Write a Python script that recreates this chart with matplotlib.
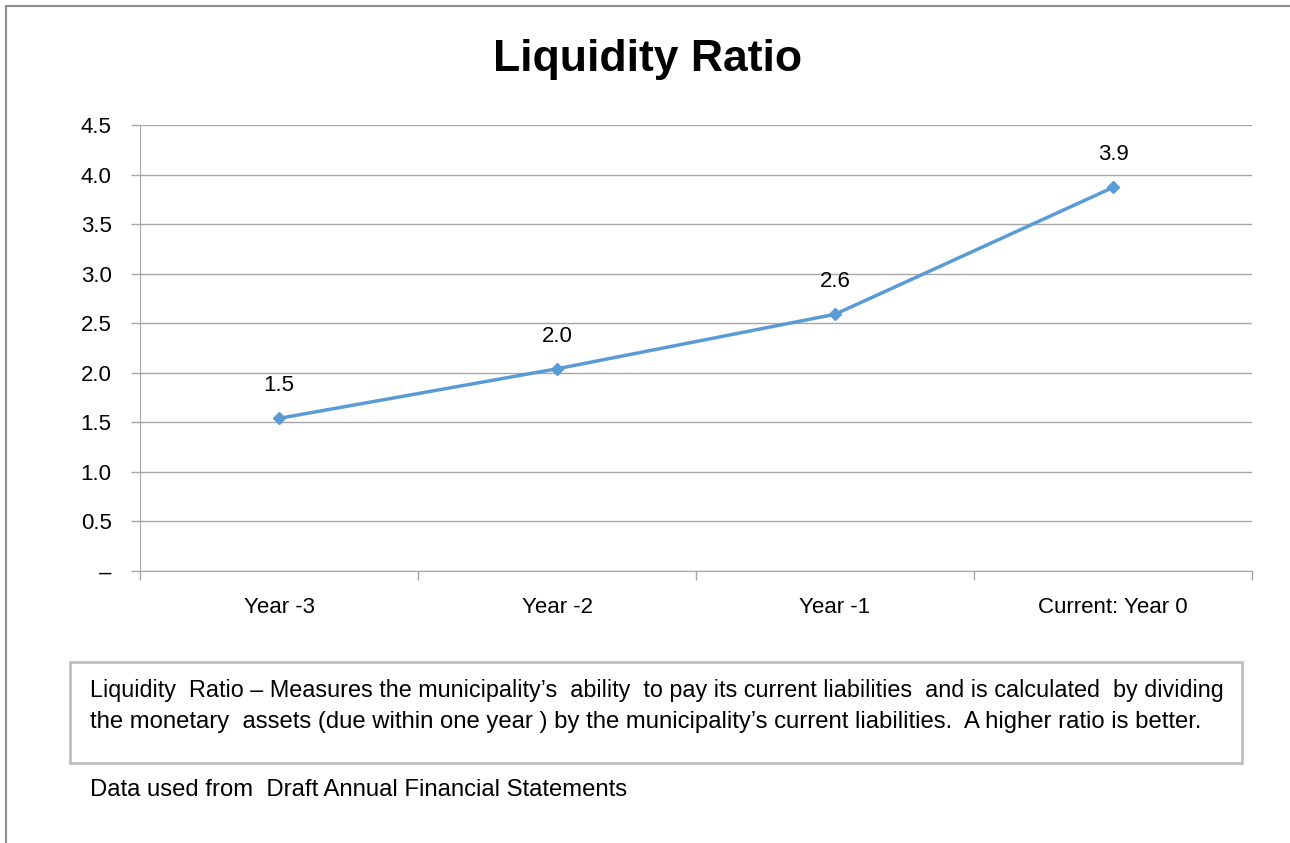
import matplotlib
matplotlib.use('Agg')
import matplotlib.pyplot as plt
from matplotlib.patches import Rectangle
from matplotlib.lines import Line2D

# chart data
categories = ['Year -3', 'Year -2', 'Year -1', 'Current: Year 0']
ratio = [1.54, 2.04, 2.59, 3.87]
yticks = [0, 0.5, 1.0, 1.5, 2.0, 2.5, 3.0, 3.5, 4.0, 4.5]
ytick_labels = ['\u2013', '0.5', '1.0', '1.5', '2.0', '2.5', '3.0', '3.5', '4.0', '4.5']

note_lines = [
    'Liquidity  Ratio \u2013 Measures the municipality\u2019s  ability  to pay its current liabilities  and is calculated  by dividing',
    'the monetary  assets (due within one year ) by the municipality\u2019s current liabilities.  A higher ratio is better.',
]
source = 'Data used from  Draft Annual Financial Statements'

plt.rcParams['font.family'] = ['Liberation Sans Narrow', 'Liberation Sans', 'DejaVu Sans']

fig = plt.figure(figsize=(12.9, 8.43), dpi=100)
ax = fig.add_axes([140 / 1290, 1 - 571 / 843, 1112 / 1290, 446 / 843])

line_color = '#5B9BD5'
grid_color = '#A6A6A6'

x = list(range(len(categories)))
ax.plot(x, ratio, color=line_color, lw=2.5, marker='D', ms=6, zorder=3)
for xi, v in zip(x, ratio):
    ax.annotate(f'{v:.1f}', (xi, v), xytext=(0, 16), textcoords='offset points',
                ha='center', va='bottom', fontsize=16, color='#000000')

ax.set_xlim(-0.5, len(categories) - 0.5)
ax.set_ylim(0, 4.5)
ax.set_yticks(yticks)
ax.set_yticklabels(ytick_labels, fontsize=16)
ax.set_xticks(x)
ax.set_xticklabels(categories, fontsize=16)
ax.tick_params(axis='x', length=0, pad=19)
ax.tick_params(axis='y', length=6.5, color=grid_color, width=1, pad=14)
# category boundary ticks
ax.set_xticks([i - 0.5 for i in range(len(categories) + 1)], minor=True)
ax.tick_params(axis='x', which='minor', length=6.5, color=grid_color, width=1)

ax.grid(axis='y', color=grid_color, lw=1)
ax.set_axisbelow(True)
for s in ['top', 'right']:
    ax.spines[s].set_visible(False)
ax.spines['left'].set_color(grid_color)
ax.spines['bottom'].set_color(grid_color)

fig.text(648 / 1290, 1 - 60 / 843, 'Liquidity Ratio', ha='center', va='center',
         fontsize=32, fontweight='bold')

# note box
fig.patches.append(Rectangle((70 / 1290, 1 - 763 / 843), 1172 / 1290, 101 / 843,
                             transform=fig.transFigure, fill=False,
                             edgecolor='#BFBFBF', lw=2))
fig.text(90 / 1290, 1 - 690 / 843, note_lines[0], ha='left', va='center', fontsize=16.8)
fig.text(90 / 1290, 1 - 722 / 843, note_lines[1], ha='left', va='center', fontsize=17.2)
fig.text(90 / 1290, 1 - 790 / 843, source, ha='left', va='center', fontsize=17.2)

# outer frame (top and left edges)
fig.lines.append(Line2D([6 / 1290, 1], [1 - 6 / 843, 1 - 6 / 843], transform=fig.transFigure,
                        color='#8C8C8C', lw=1.5))
fig.lines.append(Line2D([6 / 1290, 6 / 1290], [0, 1 - 6 / 843], transform=fig.transFigure,
                        color='#8C8C8C', lw=1.5))

fig.savefig('out.png', dpi=100, facecolor='white')
